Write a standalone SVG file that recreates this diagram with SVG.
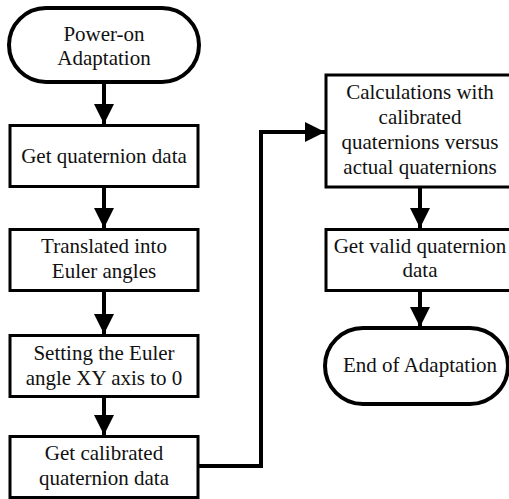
<svg xmlns="http://www.w3.org/2000/svg" width="509" height="499" viewBox="0 0 509 499">
<defs>
<marker id="ah" viewBox="0 0 20 20" refX="20" refY="10" markerWidth="20" markerHeight="20" markerUnits="userSpaceOnUse" orient="auto">
<path d="M0,0 L20,10 L0,20 Z" fill="#000"/>
</marker>
<style>
.box{fill:#fff;stroke:#000;stroke-width:3}
.term{fill:#fff;stroke:#000;stroke-width:4}
.conn{fill:none;stroke:#000;stroke-width:4}
</style>
</defs>
<rect width="509" height="499" fill="#fff"/>
<g id="connectors">
<line class="conn" x1="104" y1="83" x2="104" y2="124" marker-end="url(#ah)"/>
<line class="conn" x1="104" y1="187" x2="104" y2="228" marker-end="url(#ah)"/>
<line class="conn" x1="104" y1="291" x2="104" y2="334" marker-end="url(#ah)"/>
<line class="conn" x1="104" y1="397" x2="104" y2="435" marker-end="url(#ah)"/>
<polyline class="conn" points="199,466 261,466 261,132 325,132" marker-end="url(#ah)"/>
<line class="conn" x1="420" y1="187" x2="420" y2="228" marker-end="url(#ah)"/>
<line class="conn" x1="420" y1="291" x2="420" y2="327" marker-end="url(#ah)"/>
</g>
<g font-family="Liberation Serif, Times New Roman, serif" font-size="21" fill="#111" text-anchor="middle">
<g id="start">
<rect class="term" x="9" y="8" width="190" height="74" rx="37"/>
<text x="104" y="41">Power-on</text>
<text x="104" y="65">Adaptation</text>
</g>
<g id="get-quaternion">
<rect class="box" x="10" y="125.5" width="188" height="61"/>
<text x="104" y="163">Get quaternion data</text>
</g>
<g id="translate">
<rect class="box" x="10" y="229.5" width="188" height="61"/>
<text x="104" y="253">Translated into</text>
<text x="104" y="278">Euler angles</text>
</g>
<g id="setting">
<rect class="box" x="10" y="335.5" width="188" height="61"/>
<text x="104" y="360">Setting the Euler</text>
<text x="104" y="385">angle XY axis to 0</text>
</g>
<g id="calibrated">
<rect class="box" x="10" y="436.5" width="188" height="61"/>
<text x="104" y="460">Get calibrated</text>
<text x="104" y="485">quaternion data</text>
</g>
<g id="calculations">
<rect class="box" x="326" y="75" width="190" height="112"/>
<text x="420" y="99">Calculations with</text>
<text x="420" y="124">calibrated</text>
<text x="420" y="149">quaternions versus</text>
<text x="420" y="174">actual quaternions</text>
</g>
<g id="valid">
<rect class="box" x="326" y="229.5" width="190" height="61"/>
<text x="420" y="253">Get valid quaternion</text>
<text x="420" y="277">data</text>
</g>
<g id="end">
<rect class="term" x="325" y="328" width="183" height="76" rx="38"/>
<text x="420" y="372">End of Adaptation</text>
</g>
</g>
</svg>
